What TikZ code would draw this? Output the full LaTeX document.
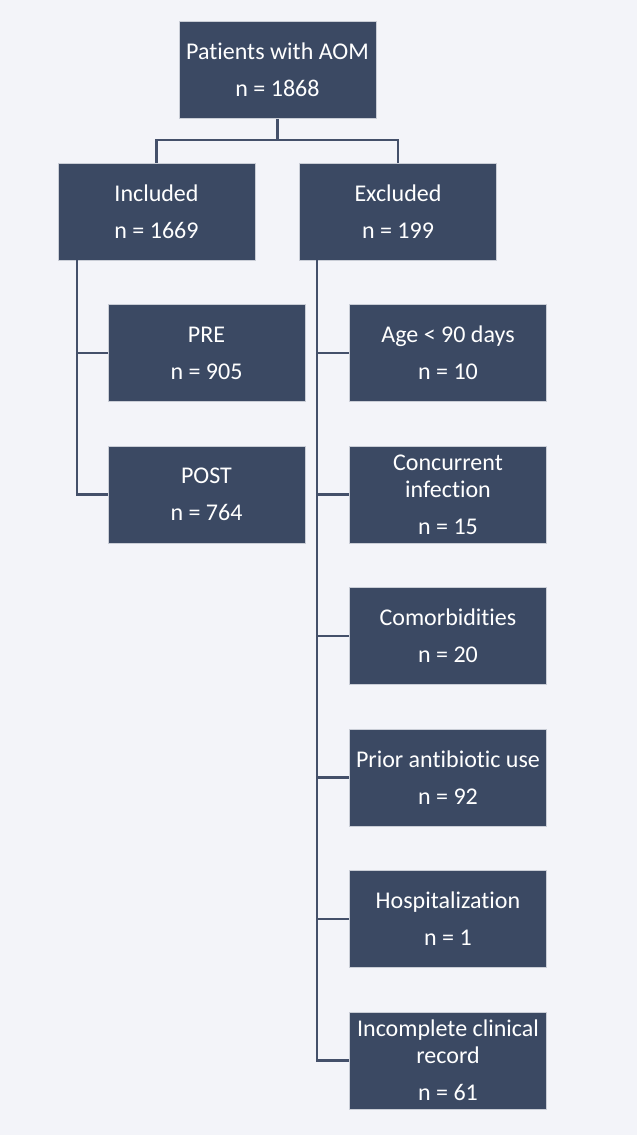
\documentclass[tikz,border=0pt]{standalone}
\usepackage{fontspec}
\setmainfont{Carlito}[Ligatures=NoCommon]
\usepackage{xcolor}
\usetikzlibrary{positioning}
\definecolor{boxfill}{HTML}{3B4963}
\definecolor{boxline}{HTML}{C9CDD6}
\definecolor{linkcol}{HTML}{44506A}
\definecolor{bgcol}{HTML}{F3F4F9}

\begin{document}
\begin{tikzpicture}[x=1pt,y=1pt,node distance=141.5pt,line width=2pt,
  box/.style={rectangle,fill=boxfill,draw=boxline,line width=0.8pt,
    minimum width=197pt,minimum height=97pt,inner sep=1pt,align=center,
    text=white,font=\fontsize{24}{27}\selectfont},
  link/.style={draw=linkcol,line width=2.2pt}]
  \fill[bgcol] (0,0) rectangle (637,-1135);
  \useasboundingbox (0,0) rectangle (637,-1135);

  \node[box] (AOM) at (277.5,-70) {Patients with AOM\\[10pt]n = 1868};
  \node[box] (INC) [below of=AOM,xshift=-121pt] {Included\\[10pt]n = 1669};
  \node[box] (EXC) [below of=AOM,xshift=120.5pt] {Excluded\\[10pt]n = 199};

  \node[box] (PRE)  [below of=INC,xshift=50pt] {PRE\\[10pt]n = 905};
  \node[box] (POST) [below of=PRE]  {POST\\[10pt]n = 764};

  \node[box] (AGE)  [below of=EXC,xshift=50pt] {Age < 90 days\\[10pt]n = 10};
  \node[box] (CONC) [below of=AGE]  {Concurrent\\infection\\[10pt]n = 15};
  \node[box] (COMO) [below of=CONC] {Comorbidities\\[10pt]n = 20};
  \node[box] (ANTI) [below of=COMO] {Prior antibiotic use\\[10pt]n = 92};
  \node[box] (HOSP) [below of=ANTI] {Hospitalization\\[10pt]n = 1};
  \node[box] (REC)  [below of=HOSP] {Incomplete clinical\\record\\[10pt]n = 61};

  % split below the top box
  \coordinate (split) at ([yshift=-21pt]AOM.south);
  \path[link] (AOM.south) -- (split) -| (INC.north)
              (split) -| (EXC.north);

  % trunks
  \coordinate (inctrunk) at ([xshift=19pt]INC.south west);
  \coordinate (exctrunk) at ([xshift=18pt]EXC.south west);
  \foreach \n in {PRE,POST}
    \path[link] (inctrunk) |- (\n.west);
  \foreach \n in {AGE,CONC,COMO,ANTI,HOSP,REC}
    \path[link] (exctrunk) |- (\n.west);
\end{tikzpicture}
\end{document}
